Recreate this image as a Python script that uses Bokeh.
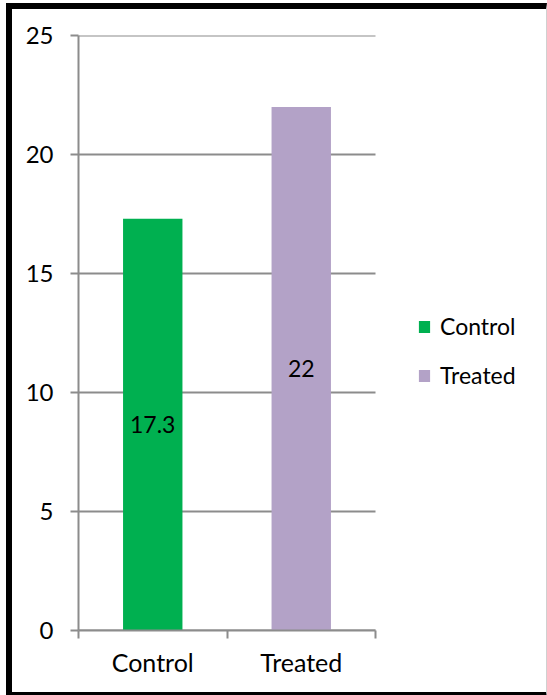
from bokeh.plotting import figure
from bokeh.models import (ColumnDataSource, Range1d, FixedTicker, Legend, LegendItem, LabelSet)
from bokeh.layouts import column
from bokeh.core.properties import value
from bokeh.embed import file_html
from bokeh.resources import INLINE

categories = ["Control", "Treated"]
values = [17.3, 22]
colors = ["#00B050", "#B3A2C7"]
y_ticks = [0, 5, 10, 15, 20, 25]

FONT = "Lato"
GRAY = "#8c8c8c"

# layout (pixels)
W, H = 534, 683
LEFT, TOP, BOTTOM = 66, 26, 62
AXIS_PX = 297  # pixel length of the category axis
frame_w = W - LEFT
n = len(categories)

xs = [i + 0.5 for i in range(n)]
src = ColumnDataSource(dict(
    x=xs, top=values, color=colors, cat=categories,
    label_y=[v / 2 for v in values],
    label=[("%g" % v) for v in values],
))

p = figure(width=W, height=H, output_backend="svg", toolbar_location=None,
           x_range=Range1d(0, n * frame_w / AXIS_PX), y_range=Range1d(0, 25),
           min_border_left=LEFT, min_border_right=0, min_border_top=TOP, min_border_bottom=BOTTOM)
p.outline_line_color = None
p.background_fill_color = "white"
p.border_fill_color = "white"

# horizontal gridlines limited to the category axis extent
p.segment(x0=[0] * len(y_ticks), x1=[n] * len(y_ticks), y0=y_ticks, y1=y_ticks,
          line_color=GRAY, line_width=2)

r = p.vbar(x="x", top="top", width=0.4, bottom=0, color="color", source=src, line_color=None)

labels = LabelSet(x="x", y="label_y", text="label", source=src, text_align="center",
                  text_baseline="middle", text_font=value(FONT), text_font_size="23px",
                  text_color="black")
p.add_layout(labels)

# y axis
p.yaxis.ticker = FixedTicker(ticks=y_ticks)
p.yaxis.axis_line_color = GRAY
p.yaxis.axis_line_width = 2
p.yaxis.major_tick_line_color = GRAY
p.yaxis.major_tick_line_width = 2
p.yaxis.major_tick_out = 8
p.yaxis.major_tick_in = 0
p.yaxis.minor_tick_line_color = None
p.yaxis.major_label_text_font = FONT
p.yaxis.major_label_text_font_size = "24px"
p.yaxis.major_label_text_color = "black"
p.yaxis.major_label_standoff = 17

# x axis
p.xaxis.ticker = FixedTicker(ticks=xs, minor_ticks=list(range(n + 1)))
p.xaxis.bounds = (0, n)
p.xaxis.major_label_overrides = {x: c for x, c in zip(xs, categories)}
p.xaxis.axis_line_color = GRAY
p.xaxis.axis_line_width = 2
p.xaxis.major_tick_line_color = None
p.xaxis.minor_tick_line_color = GRAY
p.xaxis.minor_tick_line_width = 2
p.xaxis.minor_tick_out = 8
p.xaxis.minor_tick_in = 0
p.xaxis.major_label_text_font = FONT
p.xaxis.major_label_text_font_size = "25px"
p.xaxis.major_label_text_color = "black"
p.xaxis.major_label_standoff = 8

p.xgrid.grid_line_color = None
p.ygrid.grid_line_color = None

legend = Legend(items=[LegendItem(label=c, renderers=[r], index=i) for i, c in enumerate(categories)],
                location=(339, 241), orientation="vertical",
                border_line_color=None, background_fill_alpha=0,
                padding=0, margin=0, spacing=21,
                glyph_width=14, glyph_height=15, label_standoff=9,
                label_text_font=FONT, label_text_font_size="23px", label_text_color="black")
p.add_layout(legend, "center")

root = column(p)
root.styles = {"margin-left": "6px", "margin-top": "3px", "box-sizing": "content-box",
               "border-left": "6px solid black", "border-top": "6px solid black",
               "border-bottom": "6px solid black", "border-right": "1px solid #d0d0d0"}

open("out.html", "w").write(file_html(root, INLINE))
